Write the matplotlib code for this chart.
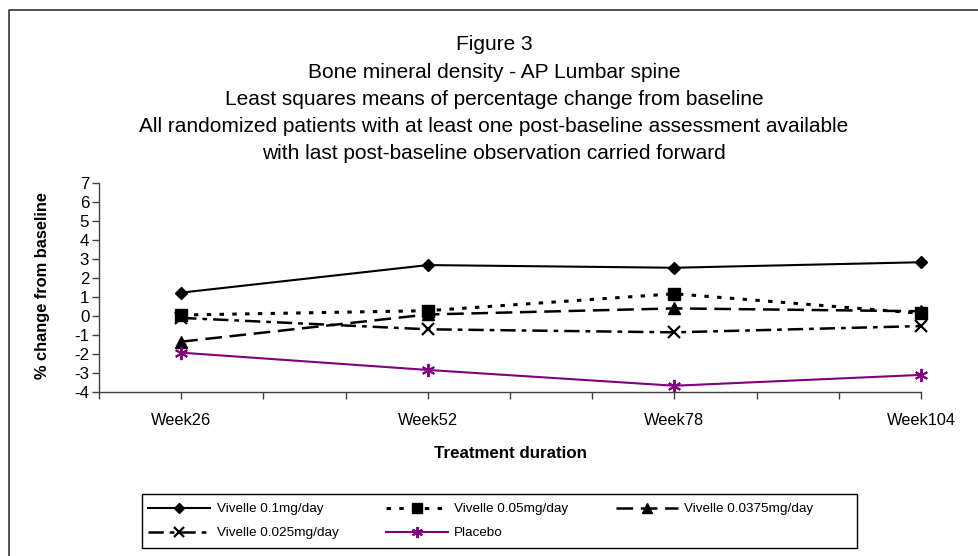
import numpy as np
import matplotlib
matplotlib.use('Agg')
import matplotlib.pyplot as plt
from matplotlib.lines import Line2D
from matplotlib.patches import Rectangle

plt.rcParams['font.family'] = ['Liberation Sans', 'DejaVu Sans']
plt.rcParams['lines.scale_dashes'] = False
plt.rcParams['axes.unicode_minus'] = False

# values
weeks = ['Week26', 'Week52', 'Week78', 'Week104']
vivelle_01 = [1.23, 2.68, 2.54, 2.83]
vivelle_005 = [0.05, 0.28, 1.17, 0.14]
vivelle_00375 = [-1.35, 0.08, 0.40, 0.25]
vivelle_0025 = [-0.10, -0.70, -0.86, -0.53]
placebo = [-1.93, -2.84, -3.67, -3.10]
labels = ['Vivelle 0.1mg/day', 'Vivelle 0.05mg/day', 'Vivelle 0.0375mg/day',
          'Vivelle 0.025mg/day', 'Placebo']
title_lines = ['Figure 3',
               'Bone mineral density - AP Lumbar spine',
               'Least squares means of percentage change from baseline',
               'All randomized patients with at least one post-baseline assessment available',
               'with last post-baseline observation carried forward']

W, H = 979, 556
fig = plt.figure(figsize=(W / 100, H / 100), dpi=100)


def fx(px):
    return px / W


def fy(py):
    return 1 - py / H


ax = fig.add_axes([fx(99), fy(392), fx(921) - fx(99), fy(183) - fy(392)])
x = np.arange(len(weeks))

l1, = ax.plot(x, vivelle_01, color='black', lw=1.5, marker='D', ms=5.8,
              label=labels[0], clip_on=False)
l2, = ax.plot(x, vivelle_005, color='black', lw=2.2, marker='s', ms=8,
              dashes=(3.2, 6.0), label=labels[1], clip_on=False)
l3, = ax.plot(x, vivelle_00375, color='black', lw=1.8, marker='^', ms=8.5,
              dashes=(12, 5.5), label=labels[2], clip_on=False)
l4, = ax.plot(x, vivelle_0025, color='black', lw=1.8, marker='x', ms=8.5, mew=1.6,
              dashes=(11, 4.3, 3.4, 4.3), label=labels[3], clip_on=False)
l5, = ax.plot(x, placebo, color='#800080', lw=1.5, marker=(6, 2, 0), ms=9.5, mew=1.4,
              label=labels[4], clip_on=False)

ax.set_xlim(-1 / 3, len(weeks) - 1)
ax.set_ylim(-4, 7)
ax.set_yticks(range(-4, 8))
ax.set_xticks(x)
ax.set_xticklabels(weeks)
ax.set_xticks(np.arange(-1, 3 * (len(weeks) - 1) + 1) / 3, minor=True)
ax.tick_params(axis='x', which='both', length=5, width=1, direction='out',
               pad=10, labelsize=11.8, color='#404040')
ax.tick_params(axis='y', length=5, width=1, direction='out', pad=2,
               labelsize=12.2, color='#404040')
for s in ['top', 'right']:
    ax.spines[s].set_visible(False)
for s in ['left', 'bottom']:
    ax.spines[s].set_color('#404040')
    ax.spines[s].set_linewidth(1)

for i, line in enumerate(title_lines):
    fig.text(fx(494), fy(45 + 27.2 * i), line, ha='center', va='center', fontsize=15)

fig.text(fx(43), fy(286), '% change from baseline', rotation=90, ha='center',
         va='center', fontsize=11.8, fontweight='bold')
fig.text(fx(510), fy(453), 'Treatment duration', ha='center', va='center',
         fontsize=12.2, fontweight='bold')

# legend box and entries (row-wise order as in the reference)
fig.add_artist(Rectangle((fx(142), fy(548)), fx(857) - fx(142), fy(494) - fy(548),
                         transform=fig.transFigure, fill=False, ec='black', lw=1))
fig.legend([l1, l4, l2, l5, l3], [labels[0], labels[3], labels[1], labels[4], labels[2]],
           ncol=3, loc='upper left', bbox_to_anchor=(fx(148), fy(503)),
           frameon=False, borderpad=0, borderaxespad=0, fontsize=9.7,
           handlelength=4.6, handletextpad=0.5, columnspacing=3.5,
           labelspacing=0.85, markerscale=0.85)

# outer frame
fig.add_artist(Line2D([fx(9), fx(9), 1.0], [0, fy(10), fy(10)],
                      transform=fig.transFigure, color='#333333', lw=1.2))

fig.savefig('out.png', dpi=100)
